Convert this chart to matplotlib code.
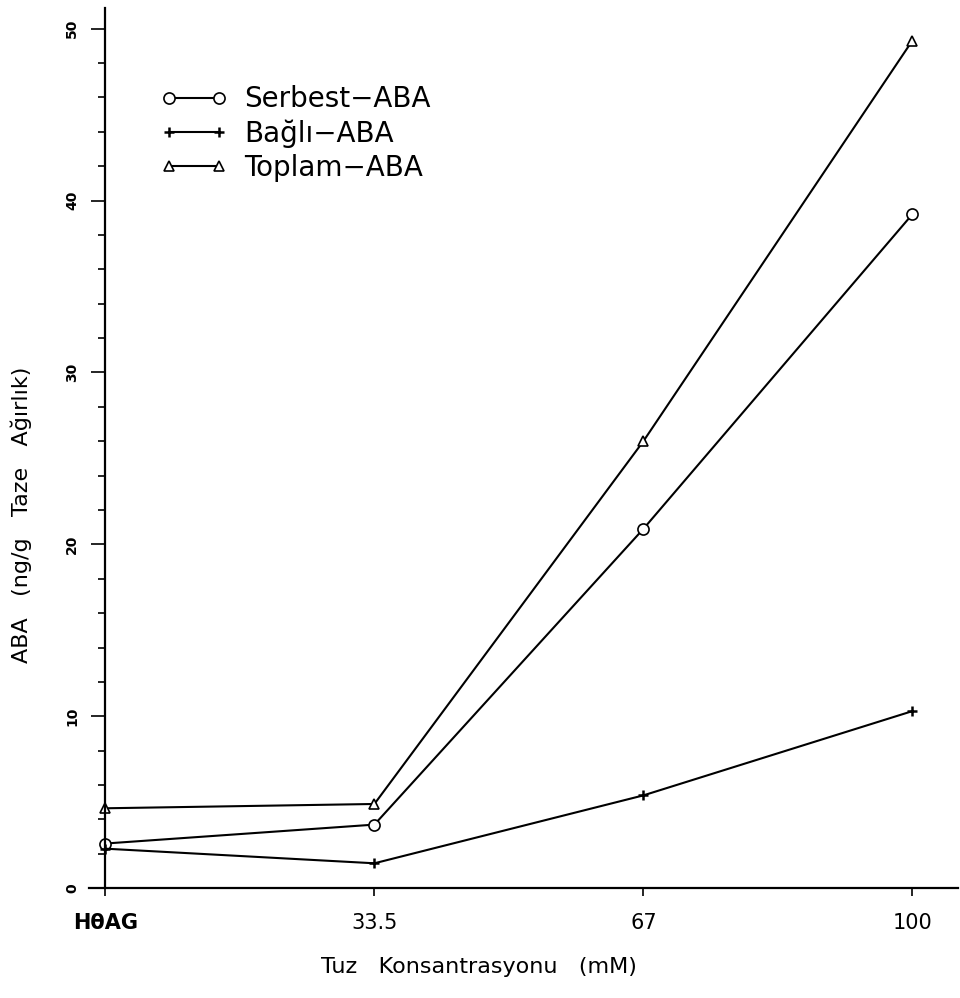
import matplotlib
matplotlib.use("Agg")
import matplotlib.pyplot as plt
from matplotlib.ticker import MultipleLocator

# salt treatments (categorical x axis)
categories = ["HθAG", "33.5", "67", "100"]
serbest = [2.6, 3.7, 20.9, 39.2]
bagli = [2.3, 1.45, 5.4, 10.3]
toplam = [4.65, 4.9, 26.0, 49.3]
y_ticks = [0, 10, 20, 30, 40, 50]

plt.rcParams["font.family"] = ["DejaVu Sans"]

fig = plt.figure(figsize=(9.6, 9.98), dpi=100)
ax = fig.add_axes([0.093, 0.110, 0.905, 0.882])

x = list(range(len(categories)))
ax.plot(x, serbest, "-", color="black", lw=1.5, marker="o", ms=8,
        mfc="white", mew=1.2, label="Serbest−ABA")
ax.plot(x, bagli, "-", color="black", lw=1.5, marker="+", ms=7,
        mew=1.8, label="Bağlı−ABA")
ax.plot(x, toplam, "-", color="black", lw=1.5, marker="^", ms=7,
        mfc="white", mew=1.2, label="Toplam−ABA")

ax.set_xlim(-0.06, 3.17)
ax.set_ylim(0, 51.2)

ax.spines["top"].set_visible(False)
ax.spines["right"].set_visible(False)
ax.spines["left"].set_position(("data", 0))
ax.spines["left"].set_linewidth(1.6)
ax.spines["bottom"].set_linewidth(1.6)

ax.set_xticks(x)
ax.set_xticklabels(categories, fontsize=15)
ax.get_xticklabels()[0].set_fontweight("bold")
ax.tick_params(axis="x", direction="out", length=6, width=1.2, pad=12)

ax.set_yticks(y_ticks)
ax.set_yticklabels([str(v) for v in y_ticks], rotation=90, fontsize=10,
                   fontweight="bold", va="center")
ax.yaxis.set_minor_locator(MultipleLocator(2))
ax.tick_params(axis="y", which="major", direction="out", length=10, width=1.2, pad=9)
ax.tick_params(axis="y", which="minor", direction="out", length=5, width=1.2)

ax.set_xlabel("Tuz   Konsantrasyonu   (mM)", fontsize=16)
ax.xaxis.set_label_coords(0.448, -0.078)
ax.set_ylabel("ABA   (ng/g   Taze   Ağırlık)", fontsize=16)
ax.yaxis.set_label_coords(-0.066, 0.424)

ax.legend(loc="upper left", bbox_to_anchor=(0.082, 0.912), frameon=False,
          fontsize=20, numpoints=2, handlelength=2.4, handletextpad=0.6,
          labelspacing=0.22, borderpad=0, borderaxespad=0)

fig.savefig("out.png", dpi=100)
